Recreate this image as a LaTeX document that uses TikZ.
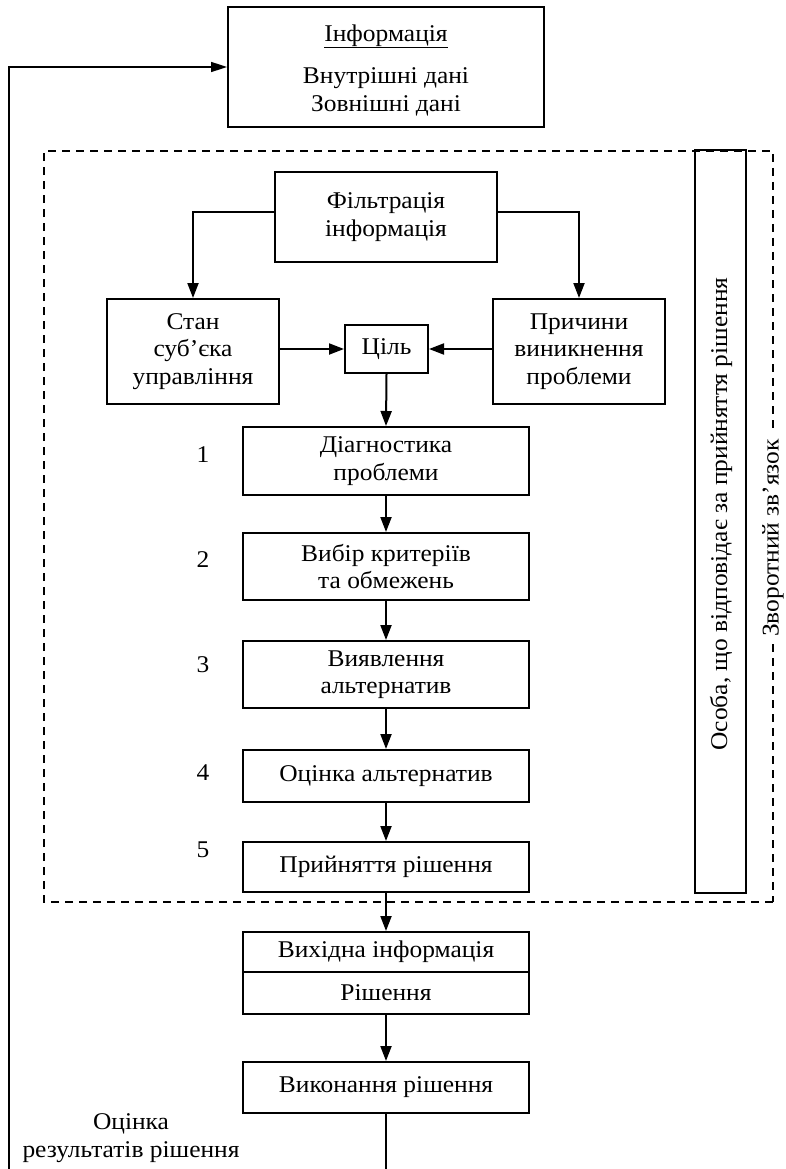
\documentclass[tikz,border=0pt]{standalone}
\usepackage{fontspec}
\setmainfont{Liberation Serif}[FakeStretch=1.06]
\usetikzlibrary{arrows.meta}
\begin{document}
\begin{tikzpicture}[x=1pt,y=-1pt,
  font=\fontsize{24}{27.5}\selectfont,
  box/.style={draw,line width=2pt,align=center,inner sep=0pt,minimum width=286pt},
  sidebox/.style={draw,line width=2pt,align=center,inner sep=0pt,minimum width=172pt,minimum height=105pt},
  conn/.style={line width=2pt,-{Triangle[length=15pt,width=11pt]}},
  fb/.style={line width=1.6pt,-{Triangle[length=16pt,width=10pt]}},
  frame/.style={line width=1.4pt,dash pattern=on 8pt off 6pt},
  num/.style={inner sep=0pt}]
\useasboundingbox (0,0) rectangle (785,1169);

% information source
\node[draw,line width=2pt,minimum width=316pt,minimum height=120pt,inner sep=0pt]
  (info) at (386,67) {};
\node[align=center,inner sep=0pt] (infotext) at (386,70)
  {\underline{Інформація}\\[15pt]Внутрішні дані\\Зовнішні дані};

% decision-making area
\draw[frame] (773,902) -- (44,902) -- (44,151) -- (773,151) -- cycle;
\node[fill=white,rotate=90,inner xsep=5pt,inner ysep=2pt] (feedback) at (773,538) {Зворотний зв'язок};
\node[draw,line width=2pt,minimum width=51pt,minimum height=742pt,inner sep=0pt]
  (person) at (720.5,521.5) {};
\node[rotate=90,inner sep=0pt] (persontext) at (721,514) {Особа, що відповідає за прийняття рішення};

\node[draw,line width=2pt,align=center,minimum width=222pt,minimum height=90pt,inner sep=0pt]
  (filt) at (386,217) {Фільтрація\\інформація};
\node[sidebox] (stan) at (193,351.5) {Стан\\суб’єка\\управління};
\node[sidebox] (prych) at (579,351.5) {Причини\\виникнення\\проблеми};
\node[draw,line width=2pt,minimum width=83pt,minimum height=48pt,inner sep=0pt]
  (goal) at (386.5,349) {Ціль};

\node[box,minimum height=68pt] (diag) at (386,461) {Діагностика\\проблеми};
\node[box,minimum height=67pt] (crit) at (386,566.5) {Вибір критеріїв\\та обмежень};
\node[box,minimum height=67pt] (alts) at (386,674.5) {Виявлення\\альтернатив};
\node[box,minimum height=52pt] (eval) at (386,776) {Оцінка альтернатив};
\node[box,minimum height=50pt] (decide) at (386,867) {Прийняття рішення};

\node[num] (n1) at (203,455) {1};
\node[num] (n2) at (203,560) {2};
\node[num] (n3) at (203,665) {3};
\node[num] (n4) at (203,773) {4};
\node[num] (n5) at (203,850) {5};

% output and execution
\node[box,minimum height=40pt] (outinfo) at (386,952) {Вихідна інформація};
\node[box,minimum height=42pt] (outdec) at (386,993) {Рішення};
\node[box,minimum height=51pt] (exec) at (386,1087.5) {Виконання рішення};

\node[align=center,inner sep=0pt] (evalres) at (131,1138) {Оцінка\\результатів рішення};

% connectors
\draw[conn] ([yshift=5pt]filt.west) -| (stan.north);
\draw[conn] ([yshift=5pt]filt.east) -| (prych.north);
\draw[conn] (stan.east |- goal.west) -- (goal.west);
\draw[conn] (prych.west |- goal.east) -- (goal.east);
\draw[conn] (goal.south) -- (diag.north);
\draw[conn] (diag) -- (crit);
\draw[conn] (crit) -- (alts);
\draw[conn] (alts) -- (eval);
\draw[conn] (eval) -- (decide);
\draw[conn] (decide) -- (outinfo);
\draw[conn] (outdec) -- (exec);

\coordinate (execend) at (386,1169);
\draw[line width=1.6pt] (exec.south) -- (execend);
\coordinate (fbstart) at (9,1169);
\draw[fb] (fbstart) |- (info.west);
\end{tikzpicture}
\end{document}
